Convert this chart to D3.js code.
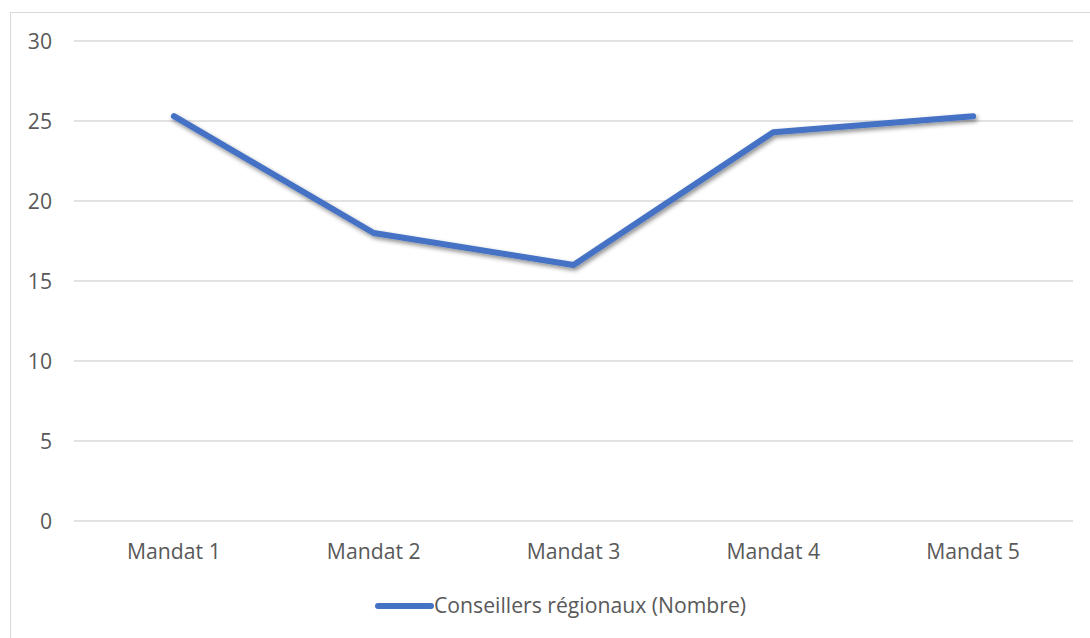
<!DOCTYPE html>
<html><head><meta charset="utf-8">
<script src="https://cdn.jsdelivr.net/npm/d3@7"></script>
<style>body{margin:0;background:#fff}svg{display:block}text{font-family:"Open Sans",sans-serif;fill:#595959}</style>
</head><body>
<svg id="c" width="1090" height="638"></svg>
<script>
const categories = ["Mandat 1","Mandat 2","Mandat 3","Mandat 4","Mandat 5"];
const values = [25.3, 18, 16, 24.3, 25.3];
const yTicks = [0,5,10,15,20,25,30];
const seriesName = "Conseillers régionaux (Nombre)";
const FS = 21.2;

const svg = d3.select("#c");
const defs = svg.append("defs");
const f = defs.append("filter").attr("id","sh").attr("x","-10%").attr("y","-10%").attr("width","120%").attr("height","130%");
f.append("feDropShadow").attr("dx",1.5).attr("dy",2.5).attr("stdDeviation",2).attr("flood-color","#000").attr("flood-opacity",0.45);

svg.append("rect").attr("x",10.5).attr("y",12.5).attr("width",1100).attr("height",700)
  .attr("fill","none").attr("stroke","#d9d9d9");

const x = d3.scaleBand().domain(categories).range([74,1073]);
const y = d3.scaleLinear().domain([0,30]).range([521,41]);

const grid = svg.append("g");
grid.selectAll("line").data(yTicks).join("line")
  .attr("x1",74).attr("x2",1073).attr("y1",d=>y(d)).attr("y2",d=>y(d))
  .attr("stroke","#d9d9d9").attr("stroke-width",1.3);

const ya = svg.append("g").attr("transform","translate(52,0)")
  .call(d3.axisLeft(y).tickValues(yTicks).tickSize(0).tickPadding(0));
ya.select(".domain").remove();
ya.selectAll("text").attr("font-size",FS).attr("fill","#595959").attr("text-anchor","end").attr("dy","0.35em")
  .style("font-family","'Open Sans',sans-serif");

const xa = svg.append("g").attr("transform","translate(0,521)")
  .call(d3.axisBottom(x).tickSize(0).tickPadding(23));
xa.select(".domain").remove();
xa.selectAll("text").attr("font-size",FS).attr("fill","#595959").style("font-family","'Open Sans',sans-serif");

const line = d3.line().x((d,i)=>x(categories[i])+x.bandwidth()/2).y(d=>y(d));
svg.append("path").datum(values).attr("d",line).attr("fill","none")
  .attr("stroke","#4472c4").attr("stroke-width",6).attr("stroke-linecap","round").attr("stroke-linejoin","round")
  .attr("filter","url(#sh)");

const lg = svg.append("g");
lg.append("line").attr("x1",378).attr("x2",431).attr("y1",606).attr("y2",606)
  .attr("stroke","#4472c4").attr("stroke-width",6).attr("stroke-linecap","round");
lg.append("text").attr("x",434).attr("y",606).attr("dy","0.35em").attr("font-size",FS).text(seriesName);
</script>
</body></html>
